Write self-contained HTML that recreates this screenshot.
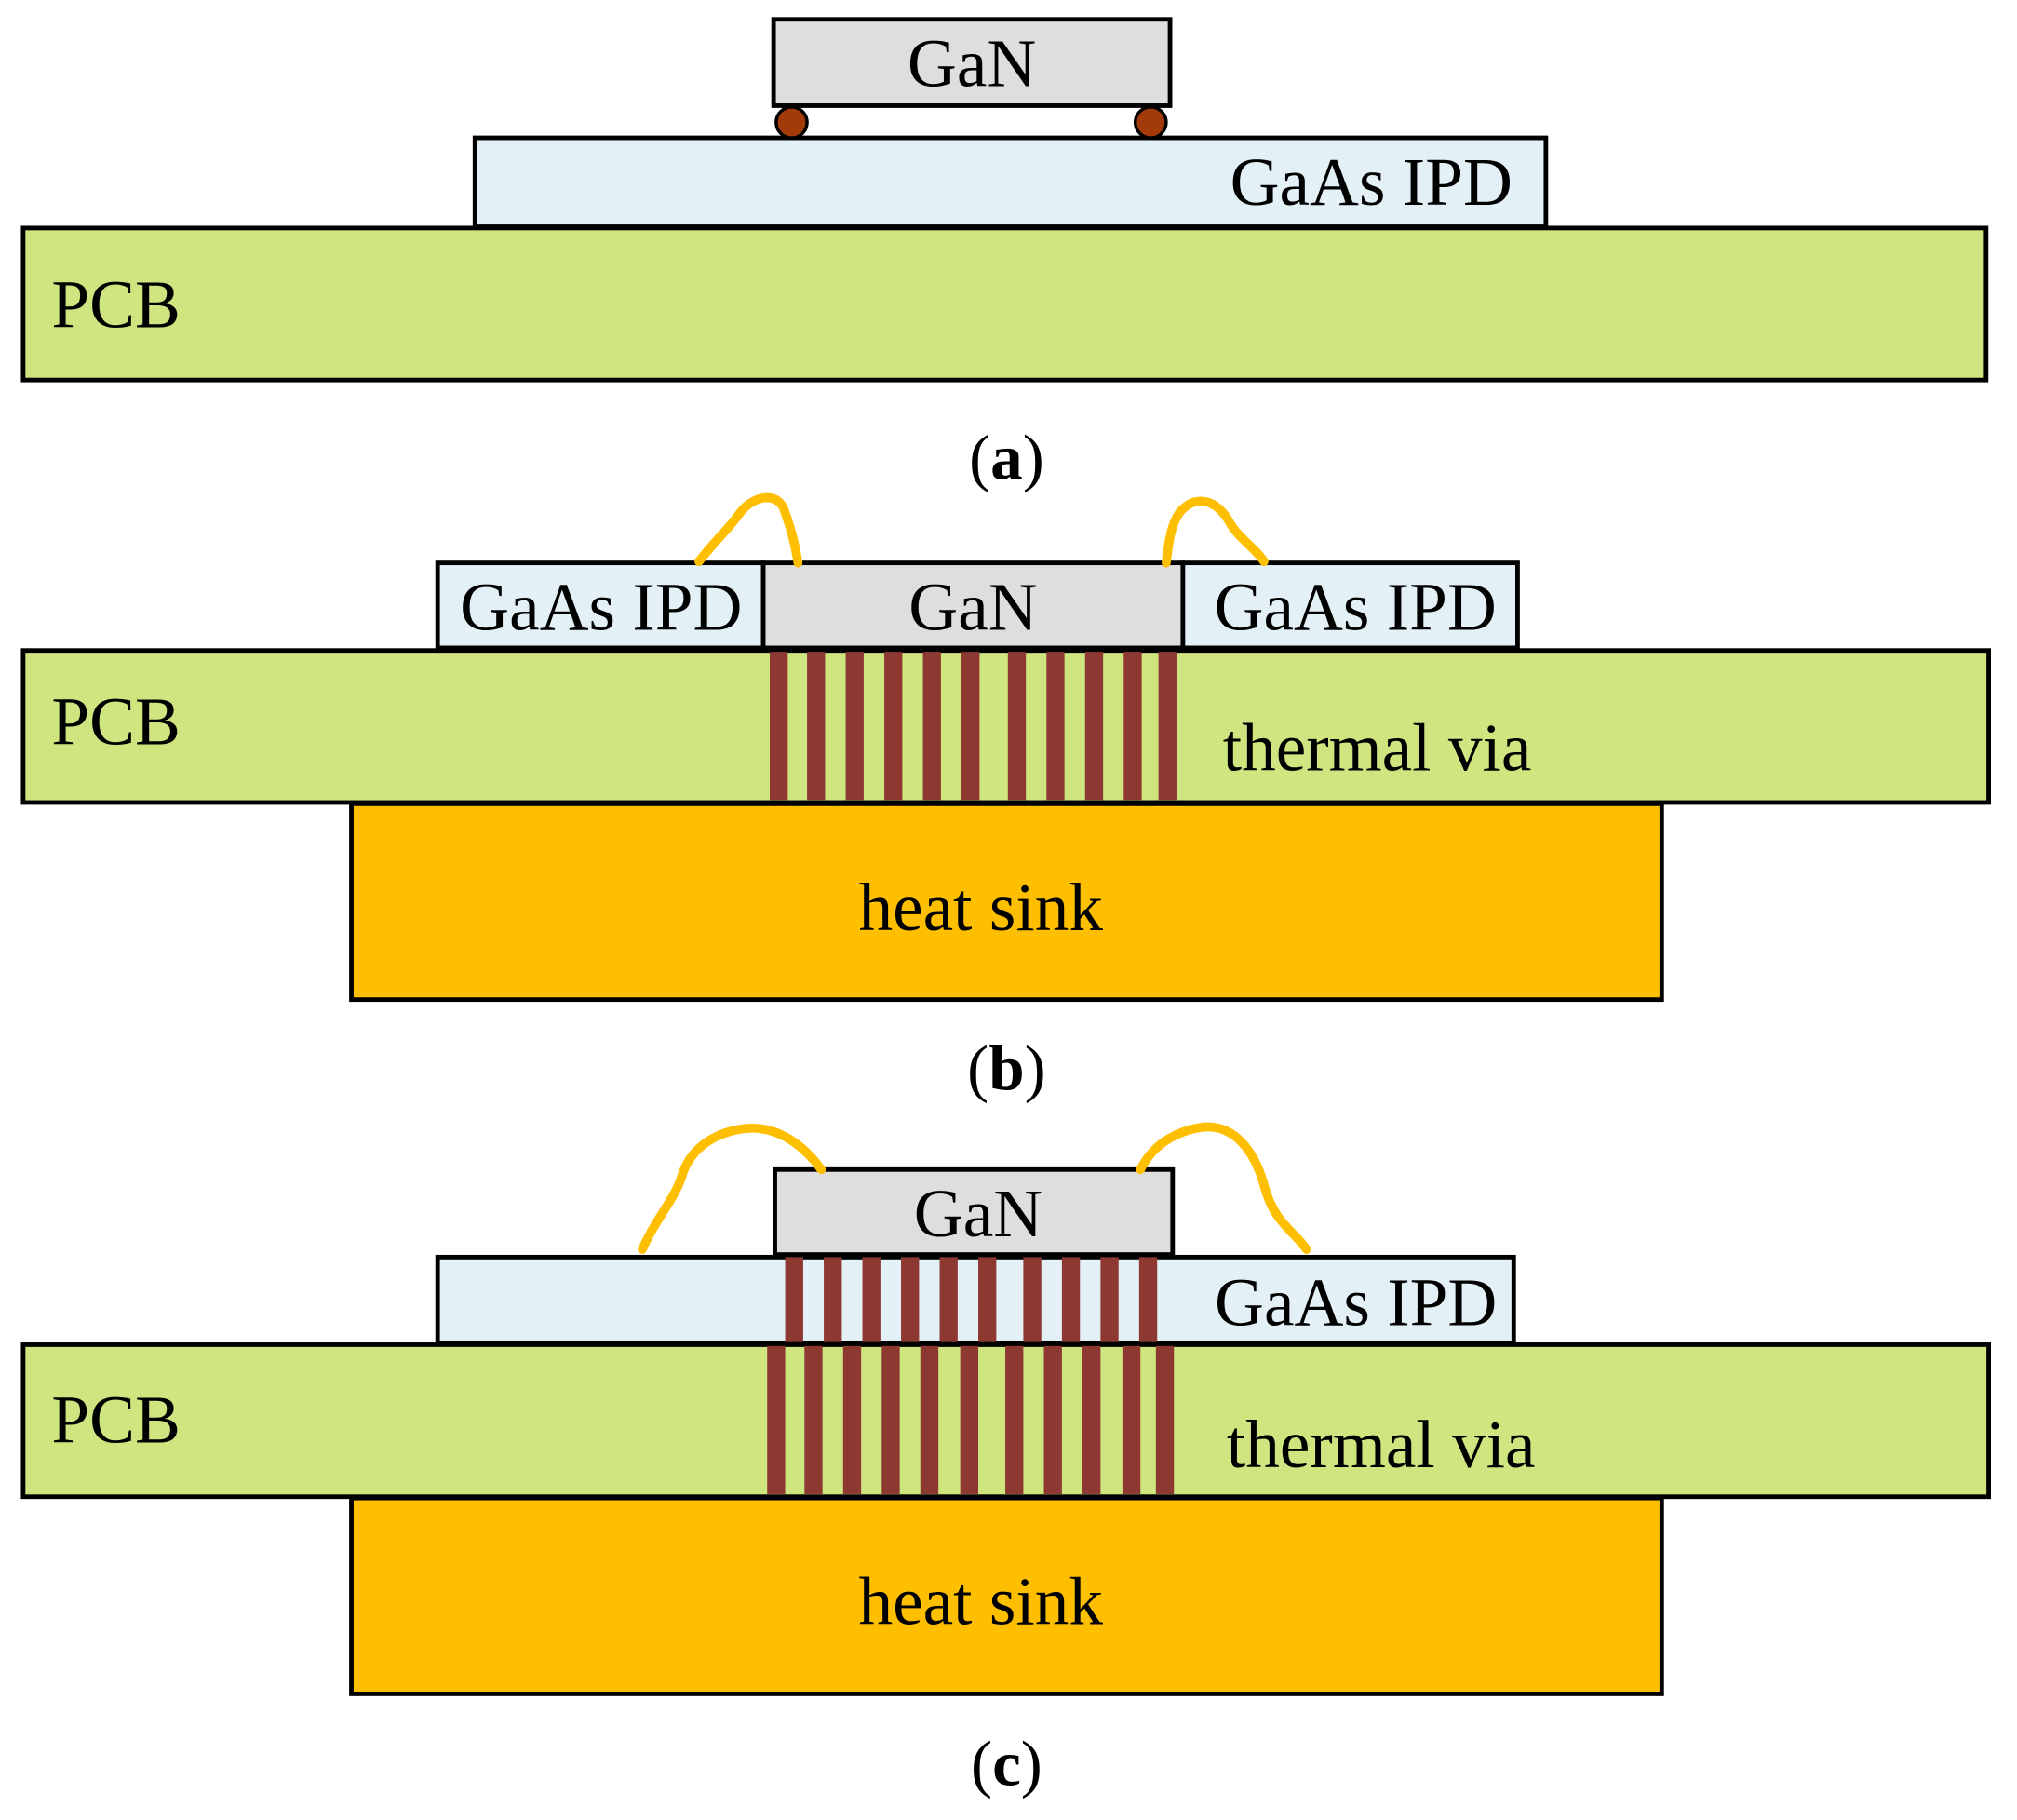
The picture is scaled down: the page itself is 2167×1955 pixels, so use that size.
<!DOCTYPE html>
<html><head><meta charset="utf-8"><style>html,body{margin:0;padding:0;background:#fff}svg{display:block}</style></head>
<body>
<svg width="2167" height="1955" viewBox="0 0 1567 1413" preserveAspectRatio="none" xmlns="http://www.w3.org/2000/svg" font-family="Liberation Serif, serif" font-size="53">
<g stroke="#000" stroke-width="3.5">
<rect x="18" y="177" width="1525" height="118" fill="#cfe57f"/>
<rect x="369" y="107" width="832" height="69" fill="#e3f1f6"/>
<rect x="601" y="15" width="308" height="67" fill="#dedede"/>
<circle cx="615" cy="95" r="12" fill="#a33a0a" stroke-width="2.5"/>
<circle cx="894" cy="95" r="12" fill="#a33a0a" stroke-width="2.5"/>
<rect x="273" y="624" width="1018" height="152" fill="#fdbf00"/>
<rect x="18" y="505" width="1527" height="118" fill="#cfe57f"/>
<rect x="340" y="437" width="253" height="66" fill="#e3f1f6"/>
<rect x="593" y="437" width="326" height="66" fill="#dedede"/>
<rect x="919" y="437" width="260" height="66" fill="#e3f1f6"/>
<rect x="273" y="1163" width="1018" height="152" fill="#fdbf00"/>
<rect x="18" y="1044" width="1527" height="118" fill="#cfe57f"/>
<rect x="340" y="976" width="836" height="67" fill="#e3f1f6"/>
<rect x="602" y="908" width="309" height="66" fill="#dedede"/>
</g>
<g fill="#8e3832">
<rect x="598" y="506" width="14" height="115"/><rect x="627" y="506" width="14" height="115"/><rect x="657" y="506" width="14" height="115"/><rect x="687" y="506" width="14" height="115"/><rect x="717" y="506" width="14" height="115"/><rect x="747" y="506" width="14" height="115"/><rect x="783" y="506" width="14" height="115"/><rect x="813" y="506" width="14" height="115"/><rect x="843" y="506" width="14" height="115"/><rect x="873" y="506" width="14" height="115"/><rect x="900" y="506" width="14" height="115"/>
<rect x="596" y="1045" width="14" height="115"/><rect x="625" y="1045" width="14" height="115"/><rect x="655" y="1045" width="14" height="115"/><rect x="685" y="1045" width="14" height="115"/><rect x="715" y="1045" width="14" height="115"/><rect x="746" y="1045" width="14" height="115"/><rect x="781" y="1045" width="14" height="115"/><rect x="811" y="1045" width="14" height="115"/><rect x="841" y="1045" width="14" height="115"/><rect x="872" y="1045" width="14" height="115"/><rect x="898" y="1045" width="14" height="115"/>
<rect x="610" y="976" width="14" height="66"/><rect x="640" y="976" width="14" height="66"/><rect x="670" y="976" width="14" height="66"/><rect x="700" y="976" width="14" height="66"/><rect x="730" y="976" width="14" height="66"/><rect x="760" y="976" width="14" height="66"/><rect x="795" y="976" width="14" height="66"/><rect x="825" y="976" width="14" height="66"/><rect x="855" y="976" width="14" height="66"/><rect x="885" y="976" width="14" height="66"/>
</g>
<g fill="none" stroke="#fdbf00" stroke-width="7" stroke-linecap="round">
<path d="M543 436 C555 420,565 412,575 398 C585 385,605 380,610 398 C616 415,618 425,620 437"/>
<path d="M906 437 C908 420,910 405,918 396 C930 384,945 388,955 405 C962 418,975 425,982 436"/>
<path d="M499 970 C510 945,525 930,530 912 C538 888,560 878,580 876 C605 874,625 890,638 908"/>
<path d="M886 908 C895 890,912 878,935 875 C960 873,975 895,982 920 C990 950,1005 955,1015 970"/>
</g>
<g fill="#000">
<text x="755" y="67" text-anchor="middle">GaN</text>
<text x="1175" y="159" text-anchor="end">GaAs IPD</text>
<text x="40" y="254">PCB</text>
<text x="782" y="372" text-anchor="middle" font-size="50"><tspan>(</tspan><tspan font-weight="bold">a</tspan><tspan>)</tspan></text>
<text x="467" y="489" text-anchor="middle">GaAs IPD</text>
<text x="756" y="489" text-anchor="middle">GaN</text>
<text x="1053" y="489" text-anchor="middle">GaAs IPD</text>
<text x="40" y="578">PCB</text>
<text x="950" y="598">thermal via</text>
<text x="762" y="722" text-anchor="middle">heat sink</text>
<text x="782" y="846" text-anchor="middle" font-size="50"><tspan>(</tspan><tspan font-weight="bold">b</tspan><tspan>)</tspan></text>
<text x="760" y="960" text-anchor="middle">GaN</text>
<text x="1163" y="1029" text-anchor="end">GaAs IPD</text>
<text x="40" y="1120">PCB</text>
<text x="953" y="1139">thermal via</text>
<text x="762" y="1261" text-anchor="middle">heat sink</text>
<text x="782" y="1386" text-anchor="middle" font-size="50"><tspan>(</tspan><tspan font-weight="bold">c</tspan><tspan>)</tspan></text>
</g>
</svg>
</body></html>
